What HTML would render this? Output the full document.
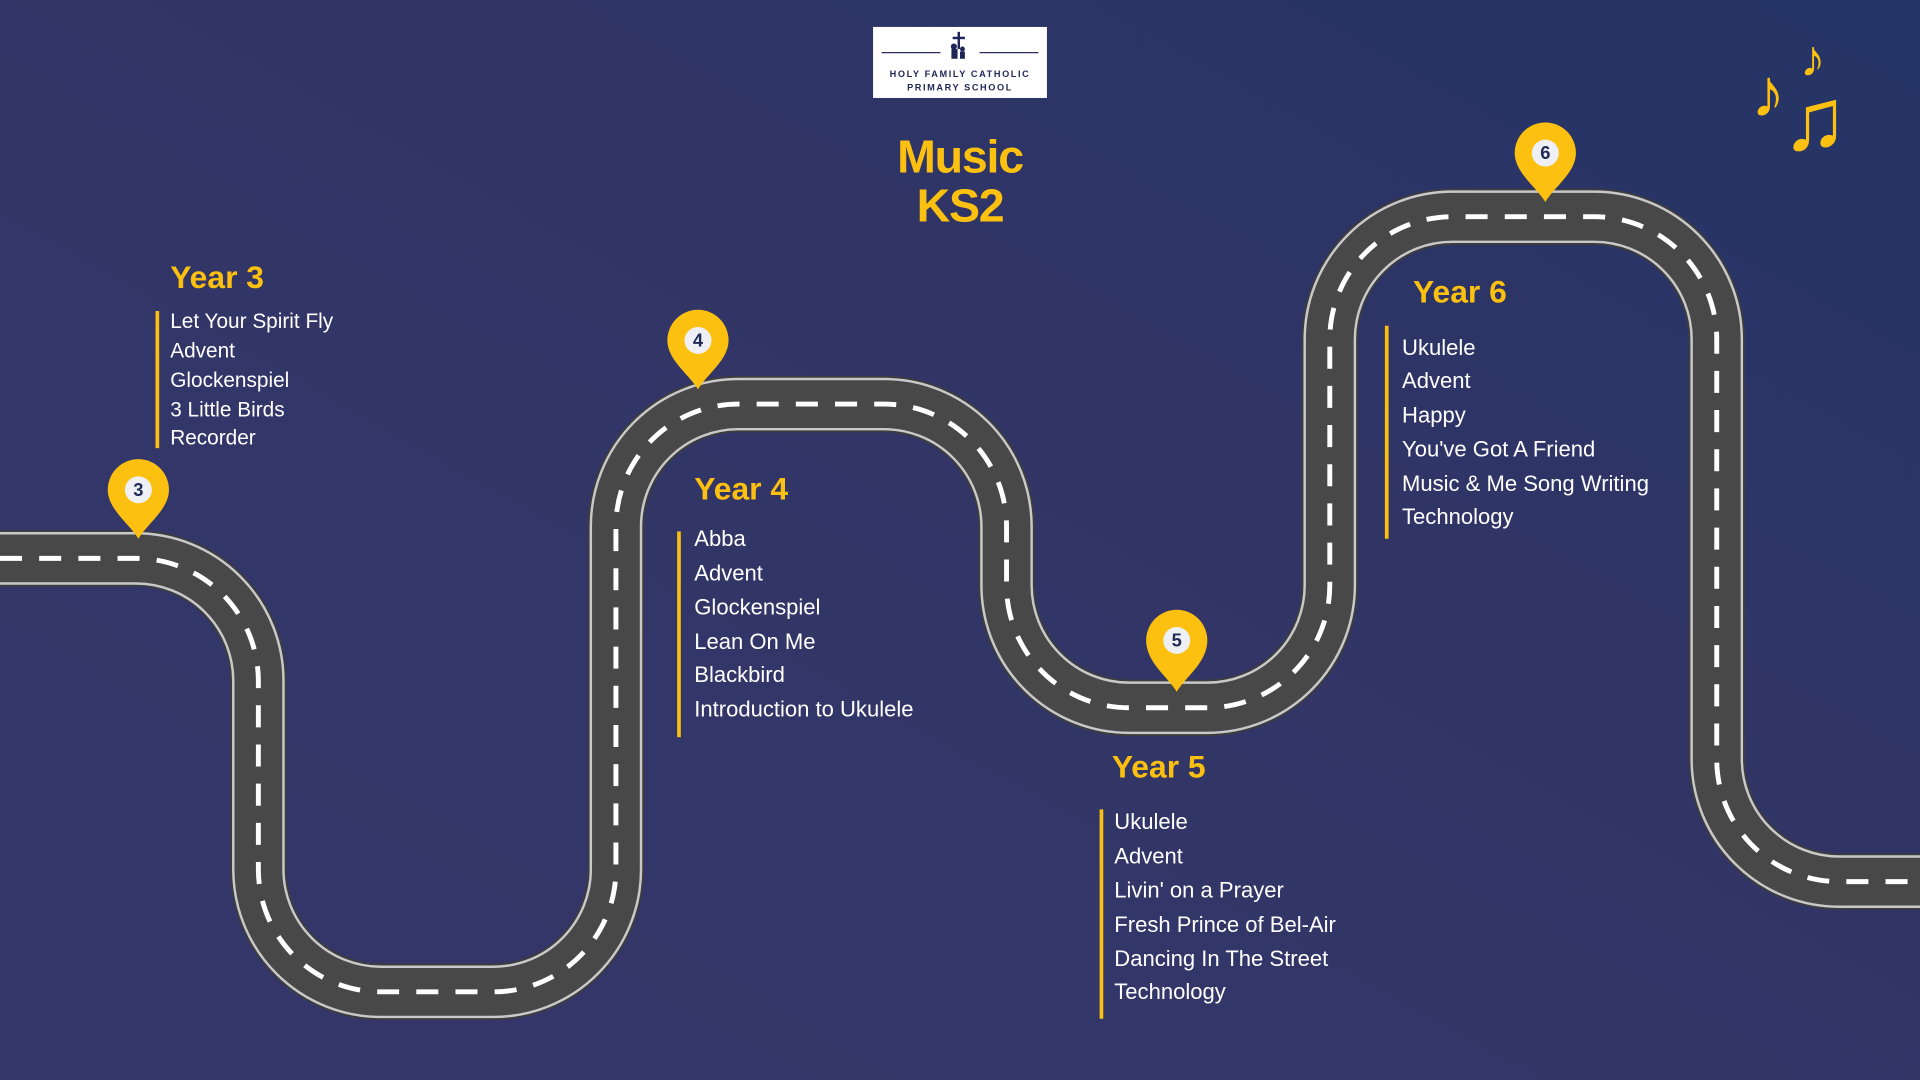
<!DOCTYPE html>
<html><head><meta charset="utf-8"><style>
html,body{margin:0;padding:0;width:1920px;height:1080px;overflow:hidden;background:#303465}
svg{display:block}
text{font-family:"Liberation Sans",sans-serif}
</style></head><body>
<svg width="1920" height="1080" viewBox="0 0 1568 882" xmlns="http://www.w3.org/2000/svg">
<defs>
<linearGradient id="bg" x1="0" y1="1" x2="1" y2="0">
<stop offset="0" stop-color="#35376a"/><stop offset="0.6" stop-color="#313566"/><stop offset="1" stop-color="#243466"/>
</linearGradient>
</defs>
<rect width="1568" height="882" fill="url(#bg)"/>
<g fill="none">
<path d="M0,456 H111 A100,100 0 0 1 211,556 V710 A100,100 0 0 0 311,810 H403 A100,100 0 0 0 503,710 V430 A100,100 0 0 1 603,330 H722 A100,100 0 0 1 822,430 V478 A100,100 0 0 0 922,578 H986 A100,100 0 0 0 1086,478 V277 A100,100 0 0 1 1186,177 H1302 A100,100 0 0 1 1402,277 V620 A100,100 0 0 0 1502,720 H1568" stroke="#3d3d3d" stroke-width="46"/>
<path d="M0,456 H111 A100,100 0 0 1 211,556 V710 A100,100 0 0 0 311,810 H403 A100,100 0 0 0 503,710 V430 A100,100 0 0 1 603,330 H722 A100,100 0 0 1 822,430 V478 A100,100 0 0 0 922,578 H986 A100,100 0 0 0 1086,478 V277 A100,100 0 0 1 1186,177 H1302 A100,100 0 0 1 1402,277 V620 A100,100 0 0 0 1502,720 H1568" stroke="#c9c9c9" stroke-width="43"/>
<path d="M0,456 H111 A100,100 0 0 1 211,556 V710 A100,100 0 0 0 311,810 H403 A100,100 0 0 0 503,710 V430 A100,100 0 0 1 603,330 H722 A100,100 0 0 1 822,430 V478 A100,100 0 0 0 922,578 H986 A100,100 0 0 0 1086,478 V277 A100,100 0 0 1 1186,177 H1302 A100,100 0 0 1 1402,277 V620 A100,100 0 0 0 1502,720 H1568" stroke="#484848" stroke-width="39"/>
<path d="M0,456 H111 A100,100 0 0 1 211,556 V710 A100,100 0 0 0 311,810 H403 A100,100 0 0 0 503,710 V430 A100,100 0 0 1 603,330 H722 A100,100 0 0 1 822,430 V478 A100,100 0 0 0 922,578 H986 A100,100 0 0 0 1086,478 V277 A100,100 0 0 1 1186,177 H1302 A100,100 0 0 1 1402,277 V620 A100,100 0 0 0 1502,720 H1568" stroke="#ffffff" stroke-width="4" stroke-dasharray="18,14"/>
</g>
<g fill="#fcc010">
<path d="M113,440 C106,428 88,416 88,400 A25,25 0 0 1 138,400 C138,416 120,428 113,440Z"/>
<path d="M570,318 C563,306 545,294 545,278 A25,25 0 0 1 595,278 C595,294 577,306 570,318Z"/>
<path d="M961,565 C954,553 936,541 936,523 A25,25 0 0 1 986,523 C986,541 968,553 961,565Z"/>
<path d="M1262,165 C1255,153 1237,141 1237,125 A25,25 0 0 1 1287,125 C1287,141 1269,153 1262,165Z"/>
</g>
<g fill="#eef0f5"><circle cx="113" cy="400" r="11"/><circle cx="570" cy="278" r="11"/><circle cx="961" cy="523" r="11"/><circle cx="1262" cy="125" r="11"/></g>
<g fill="#1f2a55" font-weight="bold" font-size="15" text-anchor="middle">
<text x="113" y="405">3</text><text x="570" y="283">4</text><text x="961" y="528">5</text><text x="1262" y="130">6</text>
</g>
<rect x="713" y="22" width="142" height="58" fill="#fff"/>
<g stroke="#2a2f5e" stroke-width="1"><line x1="720" y1="43" x2="768" y2="43"/><line x1="800" y1="43" x2="848" y2="43"/></g>
<g fill="#1f2657"><rect x="782" y="26" width="2" height="14"/><rect x="778" y="30" width="10" height="2"/><circle cx="779" cy="38" r="2.5"/><rect x="777" y="40" width="5" height="8"/><circle cx="786" cy="40" r="2"/><rect x="784" y="42" width="4" height="6"/></g>
<g fill="#1f2657" font-size="7.5" font-weight="bold" letter-spacing="1.3" text-anchor="middle">
<text x="784" y="63">HOLY FAMILY CATHOLIC</text><text x="784" y="74">PRIMARY SCHOOL</text></g>
<g fill="#fcc010" font-weight="bold" font-size="38" text-anchor="middle" letter-spacing="-1">
<text x="784" y="141">Music</text><text x="784" y="181">KS2</text></g>
<g fill="#fcc010" font-family="DejaVu Sans,sans-serif">
<text x="1430" y="95" font-size="56">♪</text>
<text x="1470" y="62" font-size="42">♪</text>
<text x="1455" y="122" font-size="72">♫</text>
</g>
<g fill="#fcc010" font-weight="bold" font-size="26">
<text x="139" y="235">Year 3</text><text x="567" y="408">Year 4</text><text x="908" y="635">Year 5</text><text x="1154" y="247">Year 6</text>
</g>
<g fill="#fcc010"><rect x="127" y="254" width="3" height="112"/><rect x="553" y="434" width="3" height="168"/><rect x="898" y="661" width="3" height="171"/><rect x="1131" y="266" width="3" height="174"/></g>
<g fill="#ffffff" font-size="17">
<text x="139" y="268">Let Your Spirit Fly</text><text x="139" y="292">Advent</text><text x="139" y="316">Glockenspiel</text><text x="139" y="340">3 Little Birds</text><text x="139" y="363">Recorder</text>
</g>
<g fill="#ffffff" font-size="18">
<text x="567" y="446">Abba</text><text x="567" y="474">Advent</text><text x="567" y="502">Glockenspiel</text><text x="567" y="530">Lean On Me</text><text x="567" y="557">Blackbird</text><text x="567" y="585">Introduction to Ukulele</text>
<text x="910" y="677">Ukulele</text><text x="910" y="705">Advent</text><text x="910" y="733">Livin' on a Prayer</text><text x="910" y="761">Fresh Prince of Bel-Air</text><text x="910" y="789">Dancing In The Street</text><text x="910" y="816">Technology</text>
<text x="1145" y="290">Ukulele</text><text x="1145" y="317">Advent</text><text x="1145" y="345">Happy</text><text x="1145" y="373">You've Got A Friend</text><text x="1145" y="401">Music &amp; Me Song Writing</text><text x="1145" y="428">Technology</text>
</g>
</svg>
</body></html>
